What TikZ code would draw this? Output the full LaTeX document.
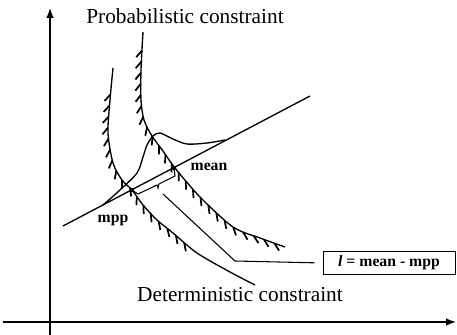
\documentclass[tikz,border=0pt]{standalone}
\usepackage{fontspec}
\setmainfont{Liberation Serif}
\usetikzlibrary{arrows.meta,decorations.markings}
\tikzset{
  hatch/.style={postaction={decorate},decoration={markings,
    mark=between positions #1 step 8.3pt with {\draw[line width=1.3pt] (0,0) -- (-38:6.5pt);}}},
  caption/.style={font=\fontsize{16}{18}\selectfont},
  ptlabel/.style={font=\fontsize{11.8}{14}\selectfont\bfseries},
}
\begin{document}
\begin{tikzpicture}[x=0.75pt,y=-0.75pt,>=Latex,line width=1pt]
\useasboundingbox (0,0) rectangle (457,335);
\draw[->] (50,335) -- (50,8);
\draw[->] (3,322) -- (456,322);
\draw[hatch={14pt and -2pt}] plot[smooth] coordinates {(143,32) (141,70) (141,100) (144,120) (152,136) (163,151) (175,168) (200,197) (233,227) (260,238) (285,247)};
\draw[hatch={20pt and -55pt}] plot[smooth] coordinates {(113,68) (110,100) (108,133) (113,163) (122,180) (132,190) (143,205) (157,220) (173,233) (197,253) (230,272) (255,285)};
\coordinate (lstart) at (63,226);
\coordinate (lend) at (310,96);
\coordinate (mean) at (174,168);
\coordinate (mpp) at (132,190);
\draw (lstart) -- (lend);
\draw plot[smooth] coordinates {(103,205) (120,190) (137,173) (143,157) (147,145) (153,136) (160,133) (173,139) (187,144) (207,143) (225,140)};
\fill (mean) circle (2.2);
\fill (mpp) circle (2.2);
\coordinate (brk) at (158,188);
\draw[line width=0.8pt] (mean) -- (175,176) -- (159,184) -- (brk) -- (157,185) -- (138,194) -- (mpp);
\node[caption] (prob) at (185,16) {Probabilistic constraint};
\node[caption] (det) at (240,295) {Deterministic constraint};
\node[ptlabel] (meanlbl) at (209,167) {mean};
\node[ptlabel] (mpplbl) at (113,220) {mpp};
\node[draw,line width=0.5pt,minimum width=99pt,minimum height=16.5pt,ptlabel] (lbox) at (389,263) {\itshape l\upshape{} = mean - mpp};
\coordinate (lead) at (163,194);
\coordinate (bend) at (235,261);
\draw[line width=0.8pt,shorten >=6pt] (lead) -- (bend) -- (lbox.west);
\end{tikzpicture}
\end{document}
